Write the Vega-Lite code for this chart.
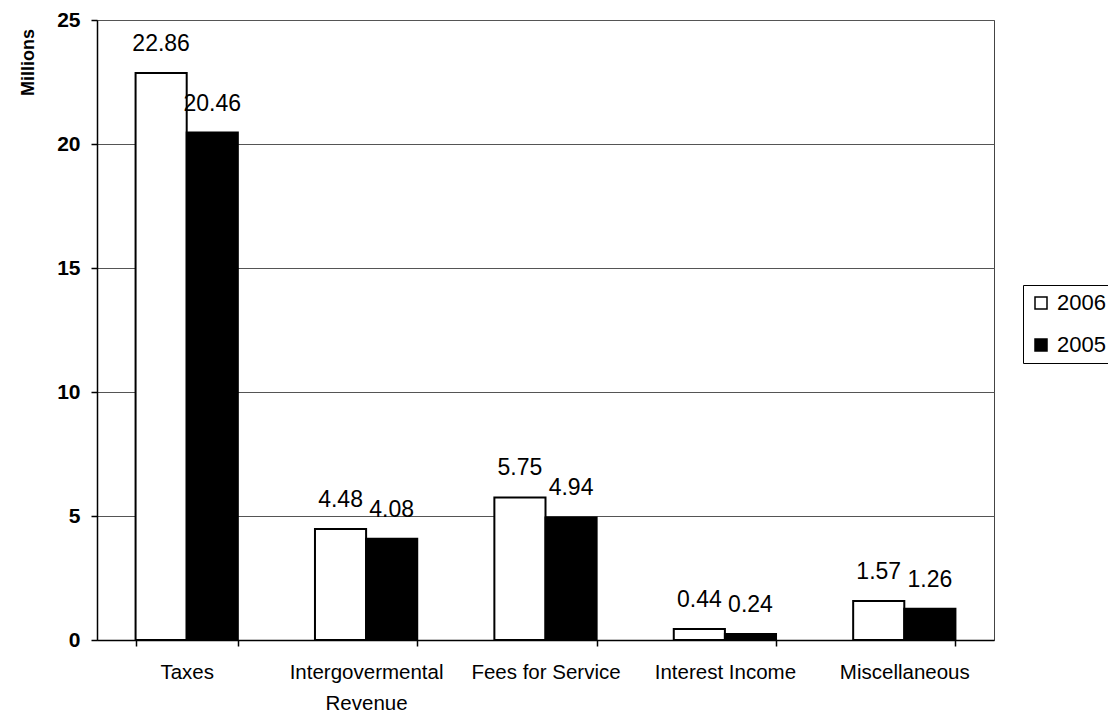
{
  "$schema": "https://vega.github.io/schema/vega-lite/v6.json",
  "width": 897,
  "height": 620,
  "autosize": "none",
  "padding": {"left": 97, "top": 20, "right": 114, "bottom": 72},
  "background": "white",
  "config": {
    "font": "Liberation Sans",
    "view": {"stroke": "#444", "strokeWidth": 1}
  },
  "data": {
    "values": [
      {"category": "Taxes", "year": "2006", "value": 22.86},
      {"category": "Taxes", "year": "2005", "value": 20.46},
      {"category": "Intergovermental Revenue", "year": "2006", "value": 4.48},
      {"category": "Intergovermental Revenue", "year": "2005", "value": 4.08},
      {"category": "Fees for Service", "year": "2006", "value": 5.75},
      {"category": "Fees for Service", "year": "2005", "value": 4.94},
      {"category": "Interest Income", "year": "2006", "value": 0.44},
      {"category": "Interest Income", "year": "2005", "value": 0.24},
      {"category": "Miscellaneous", "year": "2006", "value": 1.57},
      {"category": "Miscellaneous", "year": "2005", "value": 1.26}
    ]
  },
  "encoding": {
    "x": {
      "field": "category",
      "type": "nominal",
      "sort": null,
      "scale": {"paddingInner": 0.43, "paddingOuter": 0.215},
      "axis": {
        "title": null,
        "labelAngle": 0,
        "labelFontSize": 20.5,
        "labelColor": "black",
        "labelPadding": 16,
        "labelLineHeight": 31,
        "labelExpr": "datum.label == 'Intergovermental Revenue' ? ['Intergovermental', 'Revenue'] : datum.label",
        "tickBand": "extent",
        "tickSize": 6,
        "tickColor": "black",
        "tickWidth": 1.5,
        "domainColor": "black",
        "domainWidth": 1.5,
        "grid": false
      }
    },
    "xOffset": {"field": "year", "type": "nominal", "sort": ["2006", "2005"]},
    "y": {
      "field": "value",
      "type": "quantitative",
      "scale": {"domain": [0, 25]},
      "axis": {
        "values": [0, 5, 10, 15, 20, 25],
        "title": "Millions",
        "titleFontSize": 18,
        "titleFontWeight": "bold",
        "titleAngle": -90,
        "titleX": -69,
        "titleY": 42,
        "titleAlign": "center",
        "titleBaseline": "middle",
        "labelFontSize": 21,
        "labelFontWeight": "bold",
        "labelColor": "black",
        "labelPadding": 11,
        "tickSize": 6,
        "tickColor": "black",
        "tickWidth": 1.5,
        "domainColor": "black",
        "domainWidth": 1.5,
        "grid": true,
        "gridColor": "#555",
        "gridWidth": 1
      }
    }
  },
  "layer": [
    {
      "mark": {"type": "bar", "stroke": "black", "strokeWidth": 2},
      "encoding": {
        "color": {
          "field": "year",
          "type": "nominal",
          "sort": ["2006", "2005"],
          "scale": {"domain": ["2006", "2005"], "range": ["white", "black"]},
          "legend": {
            "title": null,
            "orient": "none",
            "legendX": 926,
            "legendY": 265,
            "symbolType": "square",
            "symbolSize": 144,
            "symbolStrokeColor": "black",
            "symbolStrokeWidth": 1.5,
            "labelFontSize": 22,
            "labelColor": "black",
            "labelOffset": 5,
            "rowPadding": 20,
            "padding": 7,
            "strokeColor": "black",
            "fillColor": "white"
          }
        }
      }
    },
    {
      "mark": {"type": "text", "baseline": "alphabetic", "dy": -22, "fontSize": 23, "color": "black"},
      "encoding": {
        "text": {"field": "value", "type": "quantitative", "format": ".2f"}
      }
    }
  ]
}
